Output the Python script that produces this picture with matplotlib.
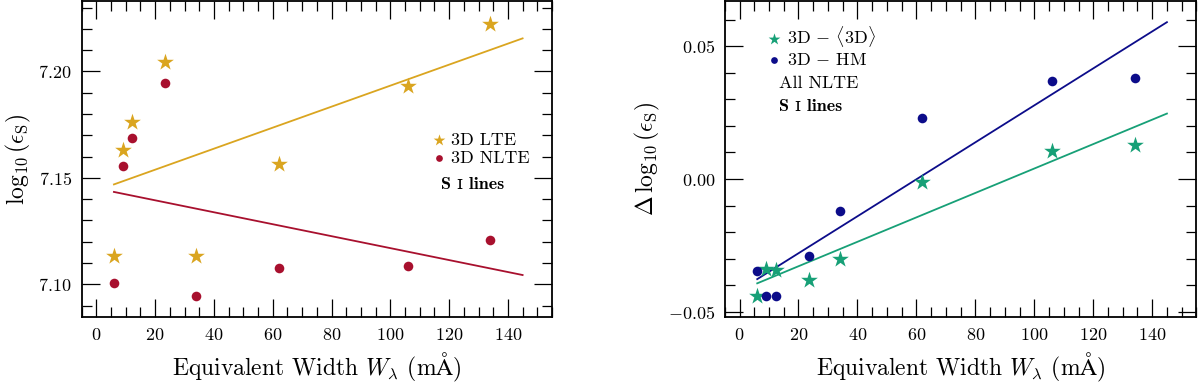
import numpy as np
import matplotlib
matplotlib.use("Agg")
import matplotlib.pyplot as plt
from matplotlib.ticker import MultipleLocator, FuncFormatter

plt.rcParams["font.family"] = ["cmr10", "DejaVu Serif"]
plt.rcParams["mathtext.fontset"] = "cm"
plt.rcParams["axes.formatter.use_mathtext"] = True
plt.rcParams["axes.unicode_minus"] = True


''' Data '''
ew = [6, 9, 12.3, 23.5, 34, 62, 106, 134]

lte_3d = [7.1133, 7.1632, 7.1762, 7.2044, 7.1133, 7.1564, 7.1933, 7.2224]
nlte_3d = [7.1008, 7.1556, 7.1687, 7.1947, 7.0947, 7.1078, 7.1088, 7.1208]

d_3d_mean = [-0.0440, -0.0340, -0.0342, -0.0382, -0.0302, -0.0013, 0.0107, 0.0127]
d_3d_hm = [-0.0348, -0.0439, -0.0439, -0.0289, -0.0119, 0.0228, 0.0369, 0.0379]

fit_range = [6, 145]

GOLD = "#DAA520"
RED = "#A8102E"
GREEN = "#17A077"
NAVY = "#0C0C8A"


def fit_line(ax, x, y, color):
    p = np.polyfit(x, y, 1)
    xs = np.array(fit_range)
    ax.plot(xs, np.polyval(p, xs), color=color, lw=1.3, zorder=1)


def style_axes(ax):
    ax.set_xlim(-5, 155)
    ax.xaxis.set_major_locator(MultipleLocator(20))
    ax.xaxis.set_minor_locator(MultipleLocator(5))
    ax.yaxis.set_major_locator(MultipleLocator(0.05))
    ax.yaxis.set_minor_locator(MultipleLocator(0.01))
    ax.yaxis.set_major_formatter(FuncFormatter(lambda v, pos: f"${v:.2f}$"))
    ax.tick_params(which="both", direction="in", top=True, right=True,
                   labelsize=13, pad=7, width=0.9)
    ax.tick_params(which="major", length=13)
    ax.tick_params(which="minor", length=7)
    for s in ax.spines.values():
        s.set_linewidth(1.3)
    ax.set_xlabel(r"Equivalent Width $W_\lambda$ (m$\mathrm{\AA}$)", fontsize=17, labelpad=6)


legend_kw = dict(loc="center left", frameon=False, fontsize=13, handletextpad=0.2,
                 handlelength=1.0, borderpad=0, borderaxespad=0, labelspacing=0.15,
                 scatterpoints=1, markerscale=0.7)

''' Plot '''
fig = plt.figure(figsize=(12, 3.82), dpi=100)
ax1 = fig.add_axes([0.068, 0.170, 0.392, 0.827])
ax2 = fig.add_axes([0.604, 0.170, 0.393, 0.827])

# left: absolute abundances
ax1.scatter(ew, lte_3d, marker="*", s=160, color=GOLD, lw=0, label="3D LTE", zorder=2)
ax1.scatter(ew, nlte_3d, marker="o", s=48, color=RED, lw=0, label="3D NLTE", zorder=2)
fit_line(ax1, ew, lte_3d, GOLD)
fit_line(ax1, ew, nlte_3d, RED)
style_axes(ax1)
ax1.set_ylim(7.0846, 7.233)
ax1.set_ylabel(r"$\log_{10}(\epsilon_{\rm S})$", fontsize=17)
ax1.legend(bbox_to_anchor=(0.74, 0.532), **legend_kw)
ax1.text(0.765, 0.42, "S ɪ lines", transform=ax1.transAxes, fontsize=13,
         family=["cmb10", "DejaVu Serif"], va="center")

# right: abundance differences
ax2.scatter(ew, d_3d_mean, marker="*", s=160, color=GREEN, lw=0,
            label=r"3D $-$ $\langle$3D$\rangle$", zorder=2)
ax2.scatter(ew, d_3d_hm, marker="o", s=48, color=NAVY, lw=0,
            label=r"3D $-$ HM", zorder=2)
fit_line(ax2, ew, d_3d_mean, GREEN)
fit_line(ax2, ew, d_3d_hm, NAVY)
style_axes(ax2)
ax2.set_ylim(-0.052, 0.067)
ax2.set_ylabel(r"$\Delta\,\log_{10}(\epsilon_{\rm S})$", fontsize=17)
ax2.legend(bbox_to_anchor=(0.085, 0.858), **legend_kw)
ax2.text(0.114, 0.74, "All NLTE", transform=ax2.transAxes, fontsize=13, va="center")
ax2.text(0.114, 0.665, "S ɪ lines", transform=ax2.transAxes, fontsize=13,
         family=["cmb10", "DejaVu Serif"], va="center")

fig.savefig("out.png", dpi=100)
